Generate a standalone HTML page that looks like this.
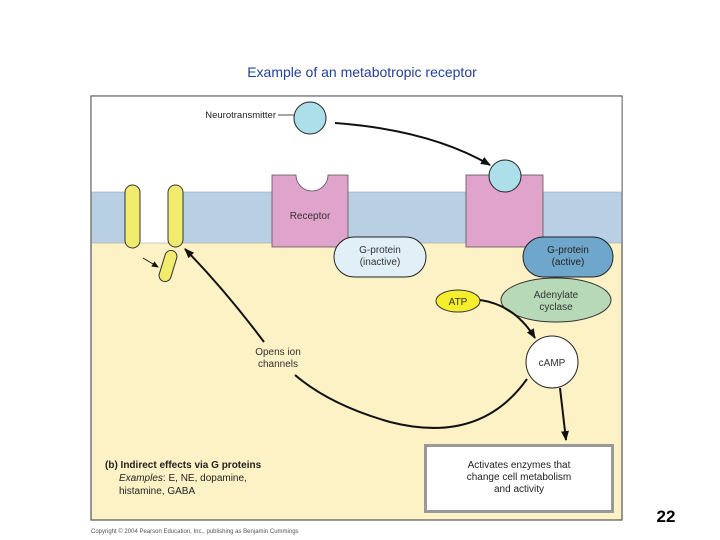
<!DOCTYPE html>
<html><head><meta charset="utf-8"><style>
html,body{margin:0;padding:0;background:#fff;}
svg{display:block;font-family:"Liberation Sans",Arial,sans-serif;}
</style></head><body>
<svg width="720" height="540" viewBox="0 0 720 540" xmlns="http://www.w3.org/2000/svg">
<defs>
<marker id="ah" markerWidth="10" markerHeight="8" refX="9" refY="4" orient="auto" markerUnits="userSpaceOnUse">
<path d="M0,0 L10,4 L0,8 z" fill="#111"/></marker>
<marker id="ahs" markerWidth="7" markerHeight="6" refX="6" refY="3" orient="auto" markerUnits="userSpaceOnUse">
<path d="M0,0 L7,3 L0,6 z" fill="#111"/></marker>
</defs>
<text x="362" y="77" font-size="14" fill="#23409a" text-anchor="middle">Example of an metabotropic receptor</text>
<rect x="91" y="96" width="531" height="424" fill="#fdf1c6" stroke="#555" stroke-width="1.2"/>
<rect x="91.6" y="96.6" width="530" height="96" fill="#fff"/>
<rect x="91.6" y="192" width="530" height="51" fill="#b9cfe3"/>
<rect x="140" y="192" width="28" height="51" fill="#fff"/>
<line x1="91" y1="192" x2="140" y2="192" stroke="#999" stroke-width="0.5"/>
<line x1="168" y1="192" x2="622" y2="192" stroke="#999" stroke-width="0.5"/>
<line x1="91" y1="243" x2="622" y2="243" stroke="#999" stroke-width="0.5"/>
<rect x="125" y="185" width="15" height="63" rx="7.5" fill="#f2ec6e" stroke="#333" stroke-width="1"/>
<rect x="168" y="185" width="15" height="62" rx="7.5" fill="#f2ec6e" stroke="#333" stroke-width="1"/>
<rect x="162" y="250" width="12" height="32" rx="6" fill="#f2ec6e" stroke="#333" stroke-width="1" transform="rotate(17 168 266)"/>
<line x1="143" y1="258" x2="158" y2="267" stroke="#111" stroke-width="1" marker-end="url(#ahs)"/>
<path d="M272,175 H296 A16,16 0 0 0 328,175 H348 V247 H272 Z" fill="#e0a3cc" stroke="#555" stroke-width="0.8"/>
<text x="310" y="219" font-size="10" fill="#333" text-anchor="middle">Receptor</text>
<rect x="466" y="175" width="77" height="72" fill="#e0a3cc" stroke="#555" stroke-width="0.8"/>
<circle cx="505" cy="176" r="16" fill="#acdfea" stroke="#222" stroke-width="1"/>
<circle cx="310" cy="118" r="16" fill="#acdfea" stroke="#222" stroke-width="1"/>
<text x="276" y="118" font-size="9.5" fill="#222" text-anchor="end">Neurotransmitter</text>
<line x1="278" y1="115" x2="294" y2="115" stroke="#222" stroke-width="0.8"/>
<path d="M335,123 Q430,130 490,165" fill="none" stroke="#111" stroke-width="2" marker-end="url(#ah)"/>
<rect x="334" y="237" width="92" height="40" rx="20" fill="#e0f0f6" stroke="#222" stroke-width="1"/>
<text x="380" y="253" font-size="10" fill="#333" text-anchor="middle">G-protein</text>
<text x="380" y="265" font-size="10" fill="#333" text-anchor="middle">(inactive)</text>
<rect x="523" y="237" width="90" height="40" rx="20" fill="#6fa6cb" stroke="#222" stroke-width="1"/>
<text x="568" y="253" font-size="10" fill="#222" text-anchor="middle">G-protein</text>
<text x="568" y="265" font-size="10" fill="#222" text-anchor="middle">(active)</text>
<ellipse cx="556" cy="300" rx="55" ry="22" fill="#b7d9b8" stroke="#333" stroke-width="1"/>
<text x="556" y="298" font-size="10" fill="#333" text-anchor="middle">Adenylate</text>
<text x="556" y="310" font-size="10" fill="#333" text-anchor="middle">cyclase</text>
<ellipse cx="458" cy="301" rx="22" ry="11" fill="#f5ee2d" stroke="#333" stroke-width="1"/>
<text x="458" y="305" font-size="10" fill="#333" text-anchor="middle">ATP</text>
<path d="M480,300 Q515,305 535,338" fill="none" stroke="#111" stroke-width="2" marker-end="url(#ah)"/>
<circle cx="552" cy="362" r="26" fill="#fff" stroke="#222" stroke-width="1"/>
<text x="552" y="366" font-size="10" fill="#333" text-anchor="middle">cAMP</text>
<path d="M560,388 L566,440" fill="none" stroke="#111" stroke-width="2" marker-end="url(#ah)"/>
<path d="M527,379 Q480,445 390,422 Q330,405 295,375" fill="none" stroke="#111" stroke-width="2"/>
<text x="278" y="355" font-size="10" fill="#333" text-anchor="middle">Opens ion</text>
<text x="278" y="367" font-size="10" fill="#333" text-anchor="middle">channels</text>
<path d="M264,342 Q225,290 185,249" fill="none" stroke="#111" stroke-width="2" marker-end="url(#ah)"/>
<rect x="425.5" y="445.5" width="187" height="66" fill="#fff" stroke="#999" stroke-width="3"/>
<text x="519" y="468" font-size="10" fill="#222" text-anchor="middle">Activates enzymes that</text>
<text x="519" y="480" font-size="10" fill="#222" text-anchor="middle">change cell metabolism</text>
<text x="519" y="492" font-size="10" fill="#222" text-anchor="middle">and activity</text>
<text x="105" y="468" font-size="10" fill="#222"><tspan font-weight="bold">(b) Indirect effects via G proteins</tspan></text>
<text x="119" y="481" font-size="10" fill="#222"><tspan font-style="italic">Examples</tspan>: E, NE, dopamine,</text>
<text x="119" y="494" font-size="10" fill="#222">histamine, GABA</text>
<text x="91" y="533" font-size="6" fill="#555">Copyright © 2004 Pearson Education, Inc., publishing as Benjamin Cummings</text>
<text x="666" y="522" font-size="17" font-weight="bold" fill="#000" text-anchor="middle">22</text>
</svg>
</body></html>
